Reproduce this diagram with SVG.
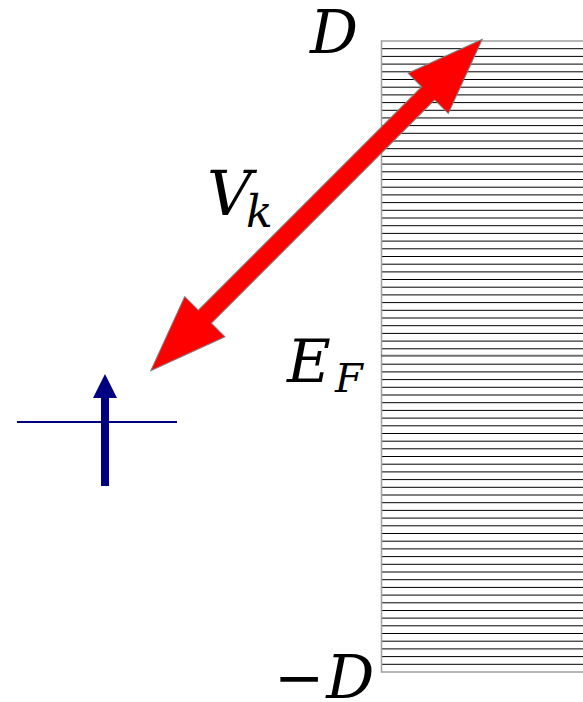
<svg xmlns="http://www.w3.org/2000/svg" width="583" height="702" viewBox="0 0 583 702">
<style>
.lvl{stroke:#000;stroke-width:1;fill:none}
.blue{fill:#000080;stroke:none}
</style>
<rect width="583" height="702" fill="#fff"/>
<g id="band">
<path class="lvl" d="M381 48.7H583M381 56.4H583M381 64.1H583M381 71.8H583M381 79.5H583M381 87.2H583M381 94.9H583M381 102.6H583M381 110.3H583M381 117.95H583M381 125.6H583M381 133.3H583M381 141H583M381 148.7H583M381 156.4H583M381 164.1H583M381 171.8H583M381 179.5H583M381 187.2H583M381 194.9H583M381 202.6H583M381 210.3H583M381 218H583M381 225.7H583M381 233.4H583M381 241.1H583M381 248.8H583M381 256.5H583M381 264.2H583M381 271.9H583M381 279.5H583M381 287.2H583M381 294.9H583M381 302.6H583M381 310.3H583M381 318H583M381 325.7H583M381 333.4H583M381 341.1H583M381 348.8H583M381 364.2H583M381 371.9H583M381 379.6H583M381 387.3H583M381 395H583M381 402.7H583M381 410.4H583M381 418.1H583M381 425.8H583M381 433.5H583M381 441.2H583M381 448.8H583M381 456.5H583M381 464.2H583M381 471.9H583M381 479.6H583M381 487.3H583M381 495H583M381 502.7H583M381 510.4H583M381 518.1H583M381 525.8H583M381 533.5H583M381 541.2H583M381 548.9H583M381 556.6H583M381 564.3H583M381 572H583M381 579.7H583M381 587.4H583M381 595.1H583M381 602.8H583M381 610.5H583M381 618.1H583M381 625.8H583M381 633.5H583M381 641.2H583M381 648.9H583M381 656.6H583M381 664.3H583"/>
<path d="M583 41H381.5V672H583" fill="none" stroke="#a0a0a0" stroke-width="1.5"/>
<path d="M381 355.8H583" stroke="#707070" stroke-width="2"/>
</g>
<g id="labels" font-family="DejaVu Serif, serif" font-style="italic" fill="#000">
<text x="310" y="53" font-size="60">D</text>
<text x="287" y="382" font-size="60">E</text>
<text x="335" y="392" font-size="40">F</text>
<text x="207" y="215" font-size="62">V</text>
<text x="246" y="227" font-size="44">k</text>
<text x="274" y="698" font-size="60"><tspan font-style="normal">−</tspan><tspan dx="2">D</tspan></text>
</g>
<g id="impurity">
<path d="M17 422H177" stroke="#000080" stroke-width="2"/>
<rect class="blue" x="101" y="397" width="8" height="89"/>
<polygon class="blue" points="105,374 117,398 93,398"/>
</g>
<g id="connectors">
<polygon transform="translate(316.5 205) rotate(-45)" fill="#ff0000" stroke="#808080" stroke-width="1" points="234.4,0 157.9,28.5 157.9,9.2 -157.9,9.2 -157.9,28.5 -234.4,0 -157.9,-28.5 -157.9,-9.2 157.9,-9.2 157.9,-28.5"/>
</g>
</svg>
